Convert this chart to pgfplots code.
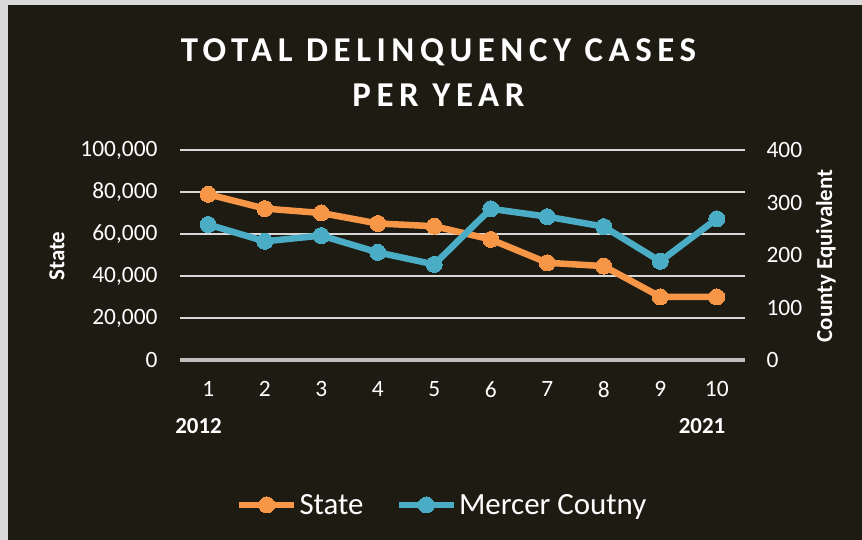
\documentclass[border=0pt]{standalone}
\usepackage{pgfplots}
\pgfplotsset{compat=1.18}
\usepackage{fontspec}
\setmainfont{Carlito}
\definecolor{bg}{HTML}{1E1B12}
\definecolor{edge}{HTML}{D9D9D9}
\definecolor{gridc}{HTML}{D9D9D9}
\definecolor{axisc}{HTML}{BFBFBF}
\definecolor{orng}{HTML}{F79646}
\definecolor{aqua}{HTML}{4BACC6}
\begin{document}
\begin{tikzpicture}[x=1bp,y=1bp]
\fill[edge] (0,0) rectangle (862,540);
\fill[bg] (8,0) rectangle (862,535);
\pgfplotsset{
  base/.style={
    scale only axis, width=565bp, height=210bp,
    at={(180bp,180bp)}, anchor=south west,
    xmin=0.5, xmax=10.5,
    major tick length=0pt,
    scaled y ticks=false, scaled x ticks=false,
    tick label style={text=white, font=\fontsize{23.5}{27}\selectfont},
  },
}
\begin{axis}[base,
  ymin=0, ymax=100000,
  ytick={0,20000,40000,60000,80000,100000},
  yticklabels={0,{20,000},{40,000},{60,000},{80,000},{100,000}},
  xtick={1,2,3,4,5,6,7,8,9,10},
  xticklabels={1,2,3,4,5,6,7,8,9,10},
  axis x line*=bottom, axis y line*=left,
  axis line style={-},
  y axis line style={draw=none},
  x axis line style={draw=axisc, line width=4bp},
  ymajorgrids, grid style={draw=gridc, line width=1.6bp},
  xticklabel style={yshift=-18bp},
  yticklabel style={xshift=-19bp},
  legend columns=2,
  legend style={at={(0.464,-0.69)}, anchor=center, draw=none, fill=none,
    text=white, font=\fontsize{31}{36}\selectfont,
    /tikz/every even column/.append style={column sep=30bp},
    inner sep=0pt},
  legend image code/.code={\draw[mark repeat=2,mark phase=2,#1] plot coordinates {(0bp,0bp)(27.5bp,0bp)(55bp,0bp)};},
]
\addplot[orng, line width=6.5bp, mark=*, mark size=8bp, mark options={fill=orng, draw=orng, line width=0pt}]
  coordinates {(1,78900)(2,72100)(3,70000)(4,65000)(5,63700)(6,57400)(7,46300)(8,44700)(9,30100)(10,30000)};
\addlegendentry{State}
\addlegendimage{aqua, line width=6.5bp, mark=*, mark size=8bp, mark options={fill=aqua, draw=aqua, line width=0pt}}
\addlegendentry{Mercer Coutny}
\end{axis}
\begin{axis}[base,
  ymin=0, ymax=400,
  ytick={0,100,200,300,400},
  yticklabels={0,100,200,300,400},
  hide x axis,
  axis y line*=right,
  axis line style={-},
  y axis line style={draw=none},
  yticklabel style={xshift=18bp},
]
\addplot[aqua, line width=6.5bp, mark=*, mark size=8bp, mark options={fill=aqua, draw=aqua, line width=0pt}]
  coordinates {(1,258)(2,226)(3,237)(4,205)(5,182)(6,288)(7,273)(8,254)(9,188)(10,269)};
\end{axis}
\node[text=white, font=\bfseries\fontsize{35}{40}\selectfont\addfontfeature{LetterSpace=16}] at (438.5,488) {TOTAL DELINQUENCY CASES};
\node[text=white, font=\bfseries\fontsize{35}{40}\selectfont\addfontfeature{LetterSpace=16}] at (438.5,445) {PER YEAR};
\node[text=white, rotate=90, font=\bfseries\fontsize{23}{27}\selectfont] at (57,284) {State};
\node[text=white, rotate=90, font=\bfseries\fontsize{23}{27}\selectfont] at (826,284) {County Equivalent};
\node[text=white, font=\bfseries\fontsize{23}{27}\selectfont, anchor=base] at (198.5,106) {2012};
\node[text=white, font=\bfseries\fontsize{23}{27}\selectfont, anchor=base] at (702,106) {2021};
\pgfresetboundingbox
\path (0,0) rectangle (862,540);
\end{tikzpicture}
\end{document}
